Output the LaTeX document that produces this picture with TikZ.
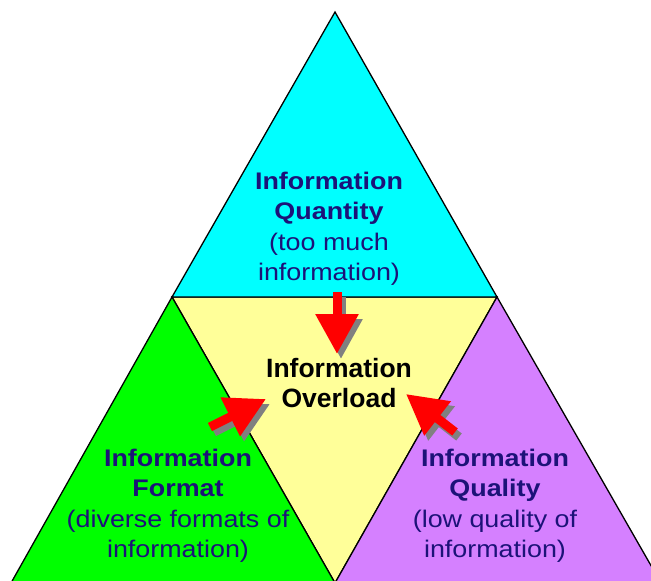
\documentclass[tikz,border=0pt]{standalone}
\usepackage{fontspec}
\setmainfont{Liberation Sans}
\newfontfamily\widesans{Liberation Sans}[FakeStretch=1.12]
\usepackage{tikz}
\usetikzlibrary{arrows.meta}
\usepackage{xcolor}
\definecolor{qtycyan}{RGB}{0,255,255}
\definecolor{fmtgreen}{RGB}{0,255,0}
\definecolor{qualpurple}{RGB}{213,128,255}
\definecolor{overyellow}{RGB}{255,255,153}
\definecolor{labelblue}{RGB}{28,18,120}
\definecolor{shadowgray}{RGB}{128,128,128}

\begin{document}
\begin{tikzpicture}[%
    x=1pt,
    y=-1pt,
    tri/.style={%
      draw=black,
      line width=1.3pt,
      line join=miter
    },
    bluetext/.style={%
      align=center,
      text=labelblue,
      font=\widesans\fontsize{24}{30.5}\selectfont,
      inner sep=0pt
    },
    centertext/.style={%
      align=center,
      text=black,
      font=\fontsize{26.5}{30}\selectfont\bfseries,
      inner sep=0pt
    },
    bigarrow/.style={%
      draw=red,
      line width=9pt,
      -{Triangle[width=41pt,length=40pt]}
    },
    arrowshadow/.style={%
      bigarrow,
      draw=shadowgray
    }
  ]
    \useasboundingbox (0,0) rectangle (651,581);
    \clip (0,0) rectangle (651,581);

    \coordinate (apex) at (335,12);
    \coordinate (tl)   at (172,297);
    \coordinate (tr)   at (497,297);
    \coordinate (bm)   at (335,583);
    \coordinate (bl)   at (11,583);
    \coordinate (br)   at (661,583);

    \draw[tri, fill=overyellow] (tl) -- (tr) -- (bm) -- cycle;
    \draw[tri, fill=qtycyan]    (apex) -- (tr) -- (tl) -- cycle;
    \draw[tri, fill=fmtgreen]   (tl) -- (bm) -- (bl) -- cycle;
    \draw[tri, fill=qualpurple] (tr) -- (br) -- (bm) -- cycle;

    \node[bluetext] (quantity) at (329,229)
      {\textbf{Information}\\\textbf{Quantity}\\(too much\\information)};
    \node[bluetext] (format)   at (178,506)
      {\textbf{Information}\\\textbf{Format}\\(diverse formats of\\information)};
    \node[bluetext] (quality)  at (495,506)
      {\textbf{Information}\\\textbf{Quality}\\(low quality of\\information)};
    \node[centertext] (overload) at (339,383) {Information\\Overload};

    % arrows pointing into the overload
    \coordinate (qtytail) at (337,292);
    \coordinate (qtytip)  at (337,354);
    \coordinate (fmttail) at (210,427);
    \coordinate (fmttip)  at (266,399);
    \coordinate (qualtail) at (455,432);
    \coordinate (qualtip)  at (406,394);

    \path ([shift={(4,5)}]qtytail)  edge [arrowshadow] ([shift={(4,5)}]qtytip)
          ([shift={(4,5)}]fmttail)  edge [arrowshadow] ([shift={(4,5)}]fmttip)
          ([shift={(4,5)}]qualtail) edge [arrowshadow] ([shift={(4,5)}]qualtip)
          ;
    \path (qtytail)  edge [bigarrow] (qtytip)
          (fmttail)  edge [bigarrow] (fmttip)
          (qualtail) edge [bigarrow] (qualtip)
          ;
  \end{tikzpicture}
\end{document}
